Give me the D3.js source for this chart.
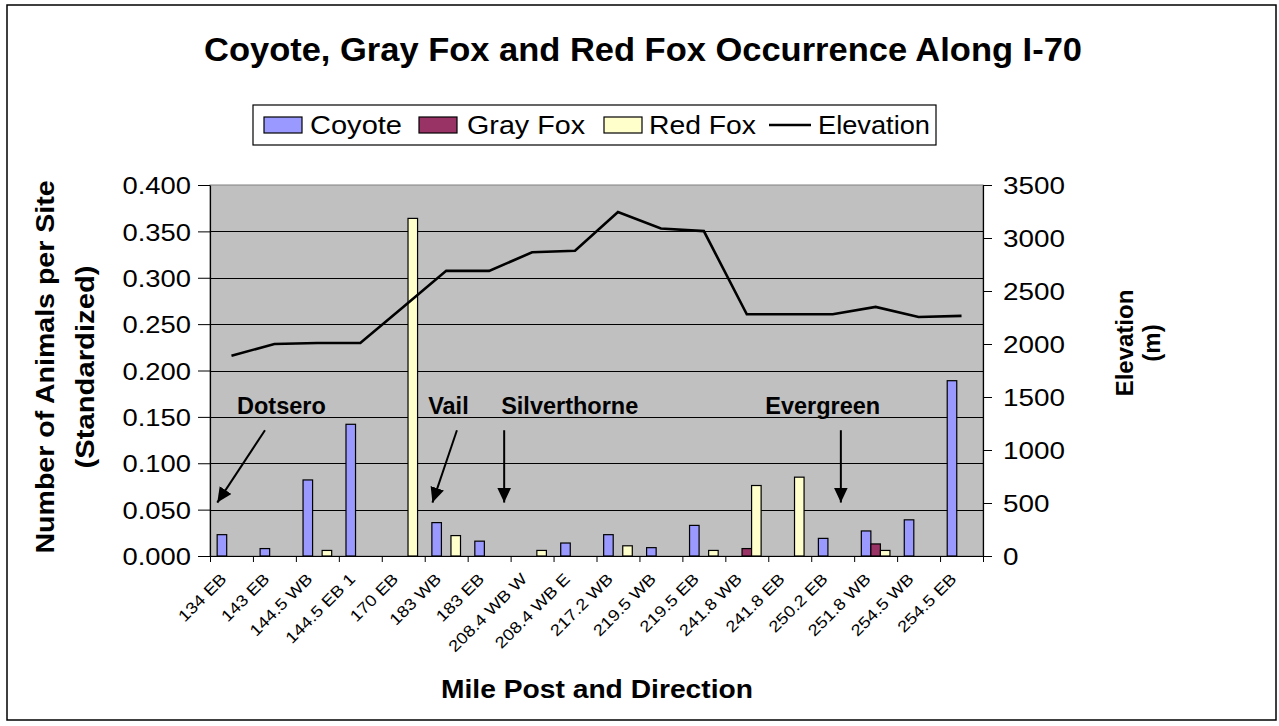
<!DOCTYPE html>
<html><head><meta charset="utf-8">
<script src="https://cdn.jsdelivr.net/npm/d3@7"></script>
<style>
html,body{margin:0;padding:0;background:#fff;}
svg{display:block;font-family:"Liberation Sans",Arial,sans-serif;}
</style>
</head><body>
<svg id="chart" width="1279" height="726"></svg>
<script>
// Mile posts along I-70 (site and direction of travel)
const categories = ["134 EB","143 EB","144.5 WB","144.5 EB 1","170 EB","183 WB","183 EB",
  "208.4 WB W","208.4 WB E","217.2 WB","219.5 WB","219.5 EB","241.8 WB","241.8 EB",
  "250.2 EB","251.8 WB","254.5 WB","254.5 EB"];
// Animals per site (standardized)
const coyote  = [0.023,0.008,0.082,0.142,0,0.036,0.016,0,0.014,0.023,0.009,0.033,0,0,0.019,0.027,0.039,0.189];
const grayFox = [0,0,0,0,0,0,0,0,0,0,0,0,0.008,0,0,0.013,0,0];
const redFox  = [0,0,0.006,0,0.364,0.022,0,0.006,0,0.011,0,0.006,0.076,0.085,0,0.006,0,0];
// Elevation of each site (m)
const elevation = [1890,2000,2010,2010,2350,2690,2690,2865,2880,3245,3090,3065,2280,2280,2280,2350,2255,2265];
const countTicks = [0,0.05,0.1,0.15,0.2,0.25,0.3,0.35,0.4];
const elevTicks = [0,500,1000,1500,2000,2500,3000,3500];
const seriesNames = ["Coyote","Gray Fox","Red Fox"];
const seriesColors = ["#9999FF","#993366","#FFFFCC"];
// Town labels: x in category units, y in animals-per-site units
const towns = [
  {name:"Dotsero",      tx:0.63,  ty:0.1526, from:[1.28,0.1356],  to:[0.17,0.0576]},
  {name:"Vail",         tx:5.08,  ty:0.1526, from:[5.75,0.1356],  to:[5.18,0.0576]},
  {name:"Silverthorne", tx:6.78,  ty:0.1526, from:[6.85,0.1356],  to:[6.85,0.0576]},
  {name:"Evergreen",    tx:12.93, ty:0.1526, from:[14.69,0.1356], to:[14.69,0.0576]}
];

const FONT = '"Liberation Sans", Arial, sans-serif';
const plot = {left:210, right:983, top:185, bottom:556};
const svg = d3.select("#chart");

// chart text is drawn slightly wide
function stretch(sel, k){
  sel.each(function(){
    const n = this.getComputedTextLength();
    d3.select(this).attr("textLength", n*k).attr("lengthAdjust","spacingAndGlyphs");
  });
  return sel;
}
function fitWidth(sel, w){
  return sel.attr("textLength", w).attr("lengthAdjust","spacingAndGlyphs");
}

const x = d3.scaleBand().domain(categories).range([plot.left, plot.right]);
const xInner = d3.scaleBand().domain(seriesNames).range([0, x.bandwidth()]).paddingOuter(0.75);
const xu = d3.scaleLinear().domain([0, categories.length]).range([plot.left, plot.right]);
const y = d3.scaleLinear().domain([0, 0.4]).range([plot.bottom, plot.top]);
const y2 = d3.scaleLinear().domain([0, 3500]).range([plot.bottom, plot.top]);

// outer frame
svg.append("rect").attr("x",7).attr("y",5).attr("width",1269).attr("height",715)
  .attr("fill","#fff").attr("stroke","#000").attr("stroke-width",1.5);

// plot background
svg.append("rect").attr("x",plot.left).attr("y",plot.top)
  .attr("width",plot.right-plot.left).attr("height",plot.bottom-plot.top)
  .attr("fill","#C0C0C0").attr("stroke","#808080").attr("stroke-width",1);

// horizontal gridlines
svg.append("g").selectAll("line").data(countTicks.filter(d=>d>0 && d<0.4)).join("line")
  .attr("x1",plot.left).attr("x2",plot.right)
  .attr("y1",d=>Math.round(y(d))+0.5).attr("y2",d=>Math.round(y(d))+0.5)
  .attr("stroke","#000").attr("stroke-width",1);

// bars
const rows = categories.map((c,i)=>({cat:c, vals:[coyote[i],grayFox[i],redFox[i]]}));
const groups = svg.append("g").selectAll("g").data(rows).join("g")
  .attr("transform",d=>`translate(${x(d.cat)},0)`);
groups.selectAll("rect")
  .data(d=>d.vals.map((v,j)=>({v, s:seriesNames[j], c:seriesColors[j]})).filter(e=>e.v>0))
  .join("rect")
  .attr("x",e=>xInner(e.s)).attr("width",xInner.bandwidth())
  .attr("y",e=>y(e.v)).attr("height",e=>y(0)-y(e.v))
  .attr("fill",e=>e.c).attr("stroke","#000").attr("stroke-width",1.2);

// elevation line
const line = d3.line().x((d,i)=>x(categories[i])+x.bandwidth()/2).y(d=>y2(d));
svg.append("path").datum(elevation).attr("d",line)
  .attr("fill","none").attr("stroke","#000").attr("stroke-width",2.6).attr("stroke-linejoin","miter");

// left axis
const gl = svg.append("g").attr("transform",`translate(${plot.left},0)`)
  .call(d3.axisLeft(y).tickValues(countTicks).tickFormat(d3.format(".3f")).tickSize(12).tickSizeOuter(0).tickPadding(7));
gl.select(".domain").attr("stroke","#000").attr("stroke-width",1.2);
gl.selectAll(".tick line").attr("stroke","#000");
gl.selectAll(".tick text").attr("font-family",FONT).attr("font-size",24).attr("fill","#000").attr("dy","0.36em");
stretch(gl.selectAll(".tick text"),1.14);

// right axis
const gr = svg.append("g").attr("transform",`translate(${plot.right},0)`)
  .call(d3.axisRight(y2).tickValues(elevTicks).tickFormat(d3.format("d")).tickSize(9).tickSizeOuter(0).tickPadding(11));
gr.select(".domain").attr("stroke","#000").attr("stroke-width",1.2);
gr.selectAll(".tick line").attr("stroke","#000");
gr.selectAll(".tick text").attr("font-family",FONT).attr("font-size",24).attr("fill","#000").attr("dy","0.36em");
stretch(gr.selectAll(".tick text"),1.16);

// bottom axis: ticks at category boundaries
const gb = svg.append("g").attr("transform",`translate(0,${plot.bottom})`)
  .call(d3.axisBottom(xu).tickValues(d3.range(0,categories.length+1)).tickSize(6).tickSizeOuter(0).tickFormat(""));
gb.select(".domain").attr("stroke","#000").attr("stroke-width",1.2);
gb.selectAll(".tick line").attr("stroke","#000");

// category labels
const xl = svg.append("g").selectAll("text").data(categories).join("text")
  .attr("transform",d=>`translate(${x(d)+x.bandwidth()/2-4},${plot.bottom+24}) rotate(-45)`)
  .attr("text-anchor","end").attr("font-size",16).attr("fill","#000").text(d=>d);
stretch(xl,1.15);

// title
fitWidth(svg.append("text").attr("x",643).attr("y",61).attr("text-anchor","middle")
  .attr("font-size",33).attr("font-weight","bold").text("Coyote, Gray Fox and Red Fox Occurrence Along I-70"),878);

// axis titles
fitWidth(svg.append("text").attr("x",597).attr("y",698).attr("text-anchor","middle")
  .attr("font-size",26).attr("font-weight","bold").text("Mile Post and Direction"),312);

const yt = svg.append("g").attr("transform","translate(0,367) rotate(-90)");
fitWidth(yt.append("text").attr("x",0).attr("y",54).attr("text-anchor","middle")
  .attr("font-size",25).attr("font-weight","bold").text("Number of Animals per Site"),373);
fitWidth(yt.append("text").attr("x",0).attr("y",94).attr("text-anchor","middle")
  .attr("font-size",25).attr("font-weight","bold").text("(Standardized)"),203);

const yt2 = svg.append("g").attr("transform","translate(0,343) rotate(-90)");
yt2.append("text").attr("x",0).attr("y",1133).attr("text-anchor","middle")
  .attr("font-size",24).attr("font-weight","bold").text("Elevation");
yt2.append("text").attr("x",0).attr("y",1160).attr("text-anchor","middle")
  .attr("font-size",24).attr("font-weight","bold").text("(m)");

// legend
const lg = svg.append("g");
lg.append("rect").attr("x",253).attr("y",105).attr("width",683).attr("height",40)
  .attr("fill","#fff").attr("stroke","#000").attr("stroke-width",1.2);
const legendItems = [
  {name:"Coyote",   color:seriesColors[0], sx:264, tx:310, w:92},
  {name:"Gray Fox", color:seriesColors[1], sx:419, tx:467, w:118},
  {name:"Red Fox",  color:seriesColors[2], sx:604, tx:649, w:107},
  {name:"Elevation",color:null,            sx:769, tx:818, w:112}
];
legendItems.forEach(it=>{
  if(it.color){
    lg.append("rect").attr("x",it.sx).attr("y",117).attr("width",38).attr("height",16)
      .attr("fill",it.color).attr("stroke","#000").attr("stroke-width",1.2);
  } else {
    lg.append("line").attr("x1",it.sx).attr("x2",it.sx+42).attr("y1",125).attr("y2",125)
      .attr("stroke","#000").attr("stroke-width",2.6);
  }
  fitWidth(lg.append("text").attr("x",it.tx).attr("y",134).attr("font-size",25).text(it.name),it.w);
});

// town labels with arrows
const defs = svg.append("defs");
defs.append("marker").attr("id","arrowhead").attr("markerUnits","userSpaceOnUse")
  .attr("markerWidth",16).attr("markerHeight",16).attr("refX",15).attr("refY",7)
  .attr("orient","auto")
  .append("path").attr("d","M0,0 L15,7 L0,14 Z").attr("fill","#000");
const tg = svg.append("g");
towns.forEach(t=>{
  tg.append("text").attr("x",xu(t.tx)).attr("y",y(t.ty)).attr("font-size",23.5)
    .attr("font-weight","bold").text(t.name);
  tg.append("line").attr("x1",xu(t.from[0])).attr("y1",y(t.from[1]))
    .attr("x2",xu(t.to[0])).attr("y2",y(t.to[1]))
    .attr("stroke","#000").attr("stroke-width",2).attr("marker-end","url(#arrowhead)");
});
svg.selectAll("text").attr("font-family",FONT);
</script>
</body></html>
